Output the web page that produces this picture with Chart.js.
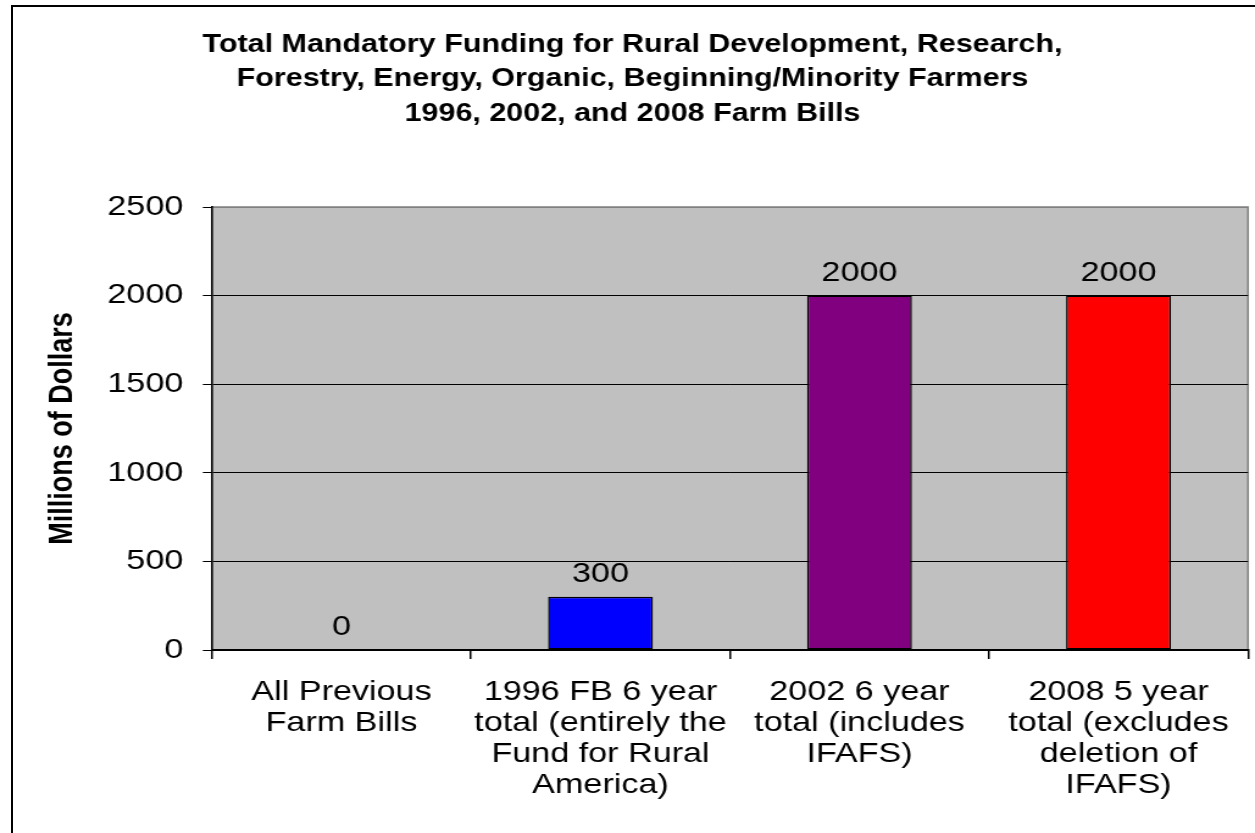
<!DOCTYPE html>
<html>
<head>
<meta charset="utf-8">
<script src="https://cdn.jsdelivr.net/npm/chart.js@4/dist/chart.umd.min.js"></script>
<style>
  html, body { margin: 0; padding: 0; background: #fff; overflow: hidden; width: 1255px; height: 833px; }
  #frame { position: absolute; left: 11px; top: 5px; width: 1400px; height: 1000px; border-left: 2px solid #000; border-top: 2px solid #000; box-sizing: border-box; }
  #wrap { position: absolute; left: 0; top: 0; width: 1029px; height: 833px; transform: scaleX(1.2196); transform-origin: 0 0; }
  canvas { display: block; }
</style>
</head>
<body>
<div id="frame"></div>
<div id="wrap"><canvas id="c" width="1029" height="833" style="width:1029px;height:833px"></canvas></div>
<script>
const titleLines = [
  "Total Mandatory Funding for Rural Development, Research,",
  "Forestry, Energy, Organic, Beginning/Minority Farmers",
  "1996, 2002, and 2008 Farm Bills"
];
const categories = [
  ["All Previous", "Farm Bills"],
  ["1996 FB 6 year", "total (entirely the", "Fund for Rural", "America)"],
  ["2002 6 year", "total (includes", "IFAFS)"],
  ["2008 5 year", "total (excludes", "deletion of", "IFAFS)"]
];
const values = [0, 300, 2000, 2000];
const barColors = ["#0000FF", "#0000FF", "#800080", "#FF0000"];
const yTitle = "Millions of Dollars";
const yMin = 0, yMax = 2500, yStep = 500;

const FONT = "'Liberation Sans', Arial, sans-serif";

const plotBg = {
  id: 'plotBg',
  beforeDraw(chart) {
    const {ctx, chartArea: a} = chart;
    ctx.save();
    ctx.fillStyle = '#C0C0C0';
    ctx.fillRect(a.left, a.top, a.right - a.left, a.bottom - a.top);
    ctx.strokeStyle = '#808080';
    ctx.lineWidth = 1.5;
    ctx.beginPath();
    ctx.moveTo(a.left, a.top);
    ctx.lineTo(a.right, a.top);
    ctx.lineTo(a.right, a.bottom);
    ctx.stroke();
    ctx.restore();
  }
};

const valueLabels = {
  id: 'valueLabels',
  afterDatasetsDraw(chart) {
    const {ctx} = chart;
    const meta = chart.getDatasetMeta(0);
    ctx.save();
    ctx.font = "28px " + FONT;
    ctx.fillStyle = '#000';
    ctx.textAlign = 'center';
    ctx.textBaseline = 'alphabetic';
    meta.data.forEach((bar, i) => {
      ctx.fillText(String(chart.data.datasets[0].data[i]), bar.x, bar.y - 15);
    });
    ctx.restore();
  }
};

new Chart(document.getElementById('c'), {
  type: 'bar',
  data: {
    labels: categories,
    datasets: [{
      data: values,
      backgroundColor: barColors,
      borderColor: '#000',
      borderWidth: 1.5,
      borderSkipped: false,
      barPercentage: 0.405,
      categoryPercentage: 1.0
    }]
  },
  options: {
    responsive: false,
    animation: false,
    devicePixelRatio: 1,
    layout: { padding: { left: 13.9, right: 5.7, top: 0, bottom: 0 } },
    plugins: {
      legend: { display: false },
      tooltip: { enabled: false },
      title: {
        display: true,
        text: titleLines,
        color: '#000',
        font: { family: FONT, size: 25, weight: 'bold', lineHeight: 1.38 },
        padding: { top: 27.5, bottom: 76 }
      }
    },
    scales: {
      x: {
        grid: {
          display: true,
          drawOnChartArea: false,
          drawTicks: true,
          tickLength: 9,
          color: '#000',
          lineWidth: 1.5,
          offset: true
        },
        border: { display: true, color: '#000', width: 2 },
        ticks: {
          color: '#000',
          font: { family: FONT, size: 28, lineHeight: 1.107 },
          maxRotation: 0,
          minRotation: 0,
          autoSkip: false,
          padding: 18
        },
        afterFit(scale) { scale.height = 183; }
      },
      y: {
        min: yMin,
        max: yMax,
        grid: {
          color: (c) => (c.tick && c.tick.value === yMax) ? '#808080' : '#000',
          tickColor: '#000',
          lineWidth: 1,
          tickLength: 7.5,
          drawTicks: true
        },
        border: { display: true, color: '#000', width: 1.6 },
        ticks: {
          stepSize: yStep,
          color: '#000',
          font: { family: FONT, size: 28 },
          padding: 16,
          callback: (v) => String(v)
        },
        title: {
          display: true,
          text: yTitle,
          color: '#000',
          font: { family: FONT, size: 27, weight: 'bold' },
          padding: { top: 21, bottom: 0 }
        },
        afterFit(scale) { scale.width = 159.9; }
      }
    }
  },
  plugins: [plotBg, valueLabels]
});
</script>
</body>
</html>
